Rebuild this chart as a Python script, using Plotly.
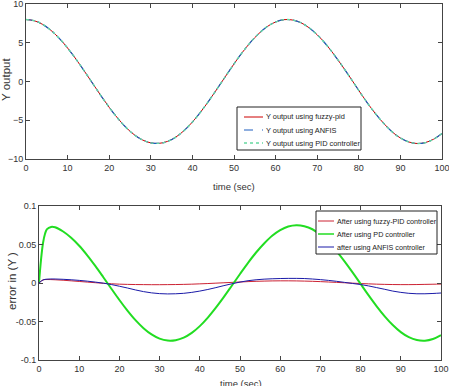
import plotly.graph_objects as go

# ---------------- data ----------------
time_top = [0, 2, 4, 6, 8, 10, 12, 14, 16, 18, 20, 22, 24, 26, 28, 30, 32, 34, 36, 38, 40,
            42, 44, 46, 48, 50, 52, 54, 56, 58, 60, 62, 64, 66, 68, 70, 72, 74, 76, 78, 80,
            82, 84, 86, 88, 90, 92, 94, 96, 98, 100]
y_output = [8.00, 7.84, 7.37, 6.60, 5.57, 4.32, 2.90, 1.36, -0.23, -1.82, -3.33, -4.71, -5.90,
            -6.86, -7.54, -7.92, -7.98, -7.73, -7.18, -6.33, -5.23, -3.92, -2.46, -0.90, 0.70,
            2.27, 3.75, 5.08, 6.20, 7.09, 7.68, 7.98, 7.94, 7.61, 6.95, 6.03, 4.87, 3.51, 2.02,
            0.46, -1.16, -2.72, -4.15, -5.41, -6.49, -7.29, -7.80, -8.00, -7.88, -7.44, -6.71]
y_fuzzy = y_output
y_anfis = y_output
y_pid = y_output

time_err = [0, 1, 2, 4, 6, 8, 10, 12, 14, 16, 18, 20, 22, 24, 26, 28, 30, 32, 34, 36, 38, 40,
            42, 44, 46, 48, 50, 52, 54, 56, 58, 60, 62, 64, 66, 68, 70, 72, 74, 76, 78, 80,
            82, 84, 86, 88, 90, 92, 94, 96, 98, 100]
err_fuzzy = [0.000, 0.0040, 0.0045, 0.0042, 0.0036, 0.0028, 0.0020, 0.0012, 0.0004, -0.0004,
             -0.0010, -0.0015, -0.0018, -0.0020, -0.0021, -0.0022, -0.0022, -0.0021, -0.0020,
             -0.0018, -0.0015, -0.0011, -0.0007, -0.0002, 0.0003, 0.0008, 0.0013, 0.0018,
             0.0022, 0.0025, 0.0027, 0.0028, 0.0028, 0.0027, 0.0025, 0.0022, 0.0018, 0.0013,
             0.0008, 0.0003, -0.0002, -0.0007, -0.0011, -0.0015, -0.0018, -0.0020, -0.0021,
             -0.0021, -0.0020, -0.0018, -0.0016, -0.0014]
err_anfis = [0.000, 0.0040, 0.0050, 0.0052, 0.0048, 0.0042, 0.0034, 0.0024, 0.0012, -0.0002,
             -0.0020, -0.0042, -0.0065, -0.0090, -0.0112, -0.0128, -0.0138, -0.0142, -0.0140,
             -0.0134, -0.0122, -0.0105, -0.0084, -0.0060, -0.0034, -0.0010, 0.0012, 0.0030,
             0.0042, 0.0050, 0.0055, 0.0058, 0.0060, 0.0060, 0.0058, 0.0052, 0.0044, 0.0034,
             0.0022, 0.0008, -0.0006, -0.0020, -0.0038, -0.0060, -0.0082, -0.0105, -0.0122,
             -0.0134, -0.0140, -0.0140, -0.0136, -0.0130]

time_pd = [0, 0.5, 1, 1.5, 2, 3, 4, 6, 8, 10, 12, 14, 16, 18, 20, 22, 24, 26, 28, 30, 32, 34,
           36, 38, 40, 42, 44, 46, 48, 50, 52, 54, 56, 58, 60, 62, 64, 66, 68, 70, 72, 74, 76,
           78, 80, 82, 84, 86, 88, 90, 92, 94, 96, 98, 100]
err_pd = [0.000, 0.030, 0.052, 0.064, 0.070, 0.0728, 0.0723, 0.0669, 0.0588, 0.0484, 0.0360,
          0.0222, 0.0075, -0.0074, -0.0221, -0.0359, -0.0483, -0.0587, -0.0668, -0.0723,
          -0.0748, -0.0743, -0.0710, -0.0648, -0.0560, -0.0449, -0.0320, -0.0180, -0.0032,
          0.0117, 0.0262, 0.0396, 0.0513, 0.0613, 0.0686, 0.0733, 0.0750, 0.0738, 0.0698,
          0.0625, 0.0529, 0.0413, 0.0280, 0.0137, -0.0012, -0.0161, -0.0303, -0.0433, -0.0546,
          -0.0638, -0.0704, -0.0741, -0.0749, -0.0728, -0.0677]

x_ticks = [0, 10, 20, 30, 40, 50, 60, 70, 80, 90, 100]
y_top_ticks = [-10, -5, 0, 5, 10]
y_bot_ticks = [-0.1, -0.05, 0, 0.05, 0.1]
y_bot_labels = ["-0.1", "-0.05", "0", "0.05", "0.1"]

# ---------------- figure ----------------
W, H = 449, 386
FONT = "Liberation Sans, Arial, sans-serif"
TXT = "#333333"

top_style = [
    ("Y output using fuzzy-pid", y_fuzzy, dict(color="#cc0000", width=1)),
    ("Y output using ANFIS", y_anfis, dict(color="#1f5fbf", width=1.2, dash="dashdot")),
    ("Y output using PID controller", y_pid, dict(color="#66d9a0", width=1.3, dash="dot")),
]
bot_style = [
    ("After using fuzzy-PID controller", time_err, err_fuzzy, dict(color="#cc2233", width=1)),
    ("After using PD controller", time_pd, err_pd, dict(color="#22dd22", width=2)),
    ("after using ANFIS controller", time_err, err_anfis, dict(color="#1a1aa8", width=1)),
]

fig = go.Figure()
for name, ys, ln in top_style:
    fig.add_trace(go.Scatter(x=time_top, y=ys, name=name, mode="lines",
                             line=dict(shape="spline", **ln), xaxis="x", yaxis="y",
                             showlegend=False))
for name, xs, ys, ln in bot_style:
    fig.add_trace(go.Scatter(x=xs, y=ys, name=name, mode="lines",
                             line=dict(shape="spline", **ln), xaxis="x2", yaxis="y2",
                             showlegend=False))


def px(x):
    return x / W


def py(y):
    return 1 - y / H


shapes = []
annotations = []


def add_legend(box, rows, line_x0, line_x1, text_x, entries, size):
    x0, y0, x1, y1 = box
    shapes.append(dict(type="rect", xref="paper", yref="paper", x0=px(x0), x1=px(x1),
                       y0=py(y1), y1=py(y0), line=dict(color="#222222", width=1),
                       fillcolor="white", layer="above"))
    for (name, ln), ry in zip(entries, rows):
        dash = ln.get("dash", "solid")
        if dash == "dashdot":
            dash = "dash"
        shapes.append(dict(type="line", xref="paper", yref="paper", x0=px(line_x0),
                           x1=px(line_x1), y0=py(ry), y1=py(ry), layer="above",
                           line=dict(color=ln["color"], width=min(ln["width"], 1.5), dash=dash)))
        annotations.append(dict(text=name, xref="paper", yref="paper", x=px(text_x), y=py(ry),
                                xanchor="left", yanchor="middle", showarrow=False,
                                font=dict(family=FONT, size=size, color="#222222")))


add_legend((237, 107, 361, 150), [117, 130, 143], 244, 263, 264,
           [(n, ln) for n, _, ln in top_style], 7.4)
add_legend((316, 211, 437, 254), [221, 234, 247], 318, 334, 335,
           [(n, ln) for n, _, _, ln in bot_style], 7.2)

# axis titles
annotations += [
    dict(text="time (sec)", xref="paper", yref="paper", x=px(234), y=py(187), xanchor="center",
         yanchor="middle", showarrow=False, font=dict(family=FONT, size=9.5, color=TXT)),
    dict(text="time (sec)", xref="paper", yref="paper", x=px(241), y=py(376), xanchor="center",
         yanchor="top", showarrow=False, font=dict(family=FONT, size=9.5, color=TXT)),
    dict(text="Y output", xref="paper", yref="paper", x=px(6), y=py(80), xanchor="center",
         yanchor="middle", textangle=-90, showarrow=False,
         font=dict(family=FONT, size=11.5, color=TXT)),
    dict(text="error in (Y )", xref="paper", yref="paper", x=px(12), y=py(281), xanchor="center",
         yanchor="middle", textangle=-90, showarrow=False,
         font=dict(family=FONT, size=11.5, color=TXT)),
]

axis_common = dict(showline=True, linecolor="#444444", linewidth=1, mirror="ticks",
                   ticks="inside", ticklen=4, tickcolor="#444444", showgrid=False,
                   zeroline=False, ticklabeloverflow="allow",
                   tickfont=dict(family=FONT, size=9, color=TXT))

fig.update_layout(
    width=W, height=H,
    margin=dict(l=0, r=0, t=0, b=0, autoexpand=False),
    paper_bgcolor="white", plot_bgcolor="white",
    font=dict(family=FONT, size=9, color=TXT),
    showlegend=False,
    shapes=shapes,
    annotations=annotations,
    xaxis=dict(domain=[26 / W, 442 / W], range=[0, 100], tickvals=x_ticks, anchor="y",
               **axis_common),
    yaxis=dict(domain=[1 - 159 / H, 1 - 4 / H], range=[-10, 10], tickvals=y_top_ticks,
               anchor="x", **axis_common),
    xaxis2=dict(domain=[39 / W, 441 / W], range=[0, 100], tickvals=x_ticks, anchor="y2",
                **axis_common),
    yaxis2=dict(domain=[1 - 360 / H, 1 - 206 / H], range=[-0.1, 0.1], tickvals=y_bot_ticks,
                ticktext=y_bot_labels, anchor="x2", **axis_common),
)

fig.write_html("out.html", config=dict(displayModeBar=False),
               post_script="document.body.style.margin='0';document.body.style.overflow='hidden';")
